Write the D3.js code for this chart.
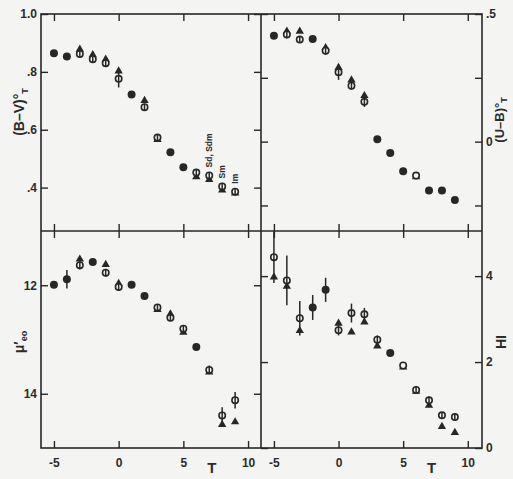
<!DOCTYPE html>
<html>
<head>
<meta charset="utf-8">
<script src="https://cdn.jsdelivr.net/npm/d3@7"></script>
<style>
  body { margin: 0; background: #f4f4f2; }
  text { font-family: "Liberation Sans", Arial, sans-serif; font-weight: bold; fill: #2b2b2b; }
</style>
</head>
<body>
<div id="chart"></div>
<script>
// morphological type
var T = [-5, -4, -3, -2, -1, 0, 1, 2, 3, 4, 5, 6, 7, 8, 9];
var xTicks = [-5, 0, 5, 10];
var xTickLabels = ["-5", "0", "5", "10"];

// (B-V) colour, top left  (tri null -> both samples coincide, filled dot)
var bvCirc = [0.864, 0.853, 0.862, 0.844, 0.830, 0.776, 0.722, 0.678, 0.573, 0.522, 0.470, 0.452, 0.442, 0.404, 0.386];
var bvTri = [null, null, 0.878, 0.859, 0.843, 0.803, null, 0.701, 0.566, null, null, 0.437, 0.428, 0.391, 0.381];
var bvErr = [0, 0, 0.01, 0.01, 0.01, 0.03, 0, 0.012, 0.01, 0, 0, 0.01, 0.01, 0.01, 0.01];
var bvTicks = [1.0, 0.8, 0.6, 0.4];
var bvTickLabels = ["1.0", ".8", ".6", ".4"];

// (U-B) colour, top right
var ubCirc = [0.415, 0.420, 0.400, 0.402, 0.356, 0.272, 0.219, 0.156, 0.009, -0.044, -0.116, -0.133, -0.191, -0.191, -0.229];
var ubTri = [null, 0.432, 0.432, null, 0.368, 0.290, 0.241, 0.180, null, null, null, -0.138, null, null, null];
var ubErr = [0.012, 0.015, 0.012, 0, 0.015, 0.03, 0.015, 0.02, 0, 0, 0, 0, 0, 0, 0.012];
var ubTicks = [0.5, 0.25, 0, -0.25];
var ubTickLabels = [".5", "", "0", ""];

// surface brightness, bottom left
var muCirc = [11.99, 11.89, 11.63, 11.57, 11.77, 12.03, 11.99, 12.20, 12.41, 12.60, 12.80, 13.14, 13.56, 14.40, 14.12];
var muTri = [null, null, 11.52, null, 11.62, 11.97, null, null, 12.45, 12.53, 12.87, null, 13.60, 14.57, 14.52];
var muErr = [0, 0.17, 0.08, 0, 0.07, 0.07, 0, 0.06, 0.05, 0.06, 0.05, 0.06, 0.08, 0.15, 0.15];
var muTicks = [12, 14];
var muTickLabels = ["12", "14"];

// HI index, bottom right
var hiCirc = [4.44, 3.90, 3.02, 3.27, 3.68, 2.74, 3.14, 3.11, 2.52, 2.21, 1.92, 1.35, 1.11, 0.76, 0.72];
var hiTri = [3.98, 3.76, 2.73, null, null, 2.90, 2.70, 2.93, 2.37, null, 1.88, 1.32, 0.99, 0.50, 0.36];
var hiErr = [0.6, 0.58, 0.4, 0.29, 0.28, 0.12, 0.22, 0.15, 0.1, 0, 0, 0.08, 0.08, 0.08, 0.08];
var hiTicks = [0, 2, 4];
var hiTickLabels = ["0", "2", "4"];

// type labels in the first panel
var typeLabels = [{t: 7, text: "Sd, Sdm"}, {t: 8, text: "Sm"}, {t: 9, text: "Im"}];

var svgWidth = 513;
var svgHeight = 479;
var ink = "#272727";
var paper = "#f4f4f2";

// frame edges (window.top is read-only, so no "top" here)
var xL = 41, xM = 261, xR = 482;
var yT = 14, yM = 231, yB = 448;
var tick = 7;

var svg = d3.select("#chart")
    .append("svg")
    .attr("width", svgWidth)
    .attr("height", svgHeight);

svg.append("rect")
    .attr("width", svgWidth)
    .attr("height", svgHeight)
    .attr("fill", paper);

var xLeft = d3.scaleLinear().domain([-6, 11]).range([xL, xM]);
var xRight = d3.scaleLinear().domain([-6, 11.1]).range([xM, xR]);

var yBV = d3.scaleLinear().domain([0.25, 1.0]).range([yM, yT]);
var yUB = d3.scaleLinear().domain([-0.35, 0.5]).range([yM, yT]);
var yMu = d3.scaleLinear().domain([11, 15]).range([yM, yB]);
var yHI = d3.scaleLinear().domain([0, 5.05]).range([yB, yM]);

function styleAxis(g) {
    g.select(".domain").remove();
    g.selectAll("line").attr("stroke", ink).attr("stroke-width", 1.4);
    g.selectAll("text").attr("fill", ink).style("font-size", "12px");
}

function noLabel() { return ""; }

// x ticks along every horizontal edge
function xAxes(x, y0, y1) {
    svg.append("g")
        .attr("transform", `translate(0, ${y0})`)
        .call(d3.axisTop(x).tickValues(xTicks).tickSize(-tick).tickFormat(noLabel))
        .call(styleAxis);
    svg.append("g")
        .attr("transform", `translate(0, ${y1})`)
        .call(d3.axisBottom(x).tickValues(xTicks).tickSize(-tick).tickFormat(noLabel))
        .call(styleAxis);
}
xAxes(xLeft, yT, yM);
xAxes(xRight, yT, yM);
xAxes(xLeft, yM, yB);
xAxes(xRight, yM, yB);

// bottom labels
[xLeft, xRight].forEach(function(x) {
    svg.append("g")
        .attr("transform", `translate(0, ${yB})`)
        .call(d3.axisBottom(x).tickValues(xTicks).tickSize(0).tickPadding(10)
            .tickFormat((d, i) => xTickLabels[i]))
        .call(styleAxis);
    svg.append("text")
        .attr("x", x(7.2))
        .attr("y", 473)
        .attr("text-anchor", "middle")
        .style("font-size", "15px")
        .text("T");
});

// y axes: labelled side outside, ticks on both sides of each panel
function yAxes(y, ticks, labels, xl, xr, labelSide) {
    var a = d3.axisLeft(y).tickValues(ticks).tickSize(-tick).tickPadding(4);
    var b = d3.axisRight(y).tickValues(ticks).tickSize(-tick).tickPadding(4);
    if (labelSide === "left") {
        a.tickFormat((d, i) => labels[i]);
        b.tickFormat(noLabel);
    } else {
        a.tickFormat(noLabel);
        b.tickFormat((d, i) => labels[i]);
    }
    svg.append("g").attr("transform", `translate(${xl}, 0)`).call(a).call(styleAxis);
    svg.append("g").attr("transform", `translate(${xr}, 0)`).call(b).call(styleAxis);
}
yAxes(yBV, bvTicks, bvTickLabels, xL, xM, "left");
yAxes(yUB, ubTicks, ubTickLabels, xM, xR, "right");
yAxes(yMu, muTicks, muTickLabels, xL, xM, "left");
yAxes(yHI, hiTicks, hiTickLabels, xM, xR, "right");

// frame
svg.append("rect")
    .attr("x", xL)
    .attr("y", yT)
    .attr("width", xR - xL)
    .attr("height", yB - yT)
    .attr("fill", "none")
    .attr("stroke", ink)
    .attr("stroke-width", 1.6);
svg.append("line")
    .attr("x1", xM).attr("x2", xM)
    .attr("y1", yT).attr("y2", yB)
    .attr("stroke", ink).attr("stroke-width", 1.6);
svg.append("line")
    .attr("x1", xL).attr("x2", xR)
    .attr("y1", yM).attr("y2", yM)
    .attr("stroke", ink).attr("stroke-width", 1.6);

// points
function drawPoints(x, y, circ, tri, err) {
    var rows = T.map((t, i) => ({t: t, c: circ[i], tr: tri[i], e: err[i]}));
    var g = svg.append("g");

    g.selectAll(".tri")
        .data(rows.filter(d => d.tr !== null))
        .enter()
        .append("path")
        .attr("d", d3.symbol().type(d3.symbolTriangle).size(30))
        .attr("transform", d => `translate(${x(d.t)}, ${y(d.tr)})`)
        .attr("fill", ink);

    g.selectAll(".dot")
        .data(rows.filter(d => d.tr === null))
        .enter()
        .append("circle")
        .attr("cx", d => x(d.t))
        .attr("cy", d => y(d.c))
        .attr("r", 4)
        .attr("fill", ink);

    g.selectAll(".open")
        .data(rows.filter(d => d.tr !== null))
        .enter()
        .append("circle")
        .attr("cx", d => x(d.t))
        .attr("cy", d => y(d.c))
        .attr("r", 3.2)
        .attr("fill", paper)
        .attr("stroke", ink)
        .attr("stroke-width", 1.6);

    g.selectAll(".err")
        .data(rows.filter(d => d.e > 0))
        .enter()
        .append("line")
        .attr("x1", d => x(d.t))
        .attr("x2", d => x(d.t))
        .attr("y1", d => y(d.c - d.e))
        .attr("y2", d => y(d.c + d.e))
        .attr("stroke", ink)
        .attr("stroke-width", 1.5);
}
drawPoints(xLeft, yBV, bvCirc, bvTri, bvErr);
drawPoints(xRight, yUB, ubCirc, ubTri, ubErr);
drawPoints(xLeft, yMu, muCirc, muTri, muErr);
drawPoints(xRight, yHI, hiCirc, hiTri, hiErr);

// type labels, written upwards
typeLabels.forEach(function(d) {
    var i = T.indexOf(d.t);
    var px = xLeft(d.t) + 3;
    var py = yBV(bvCirc[i]) - 8;
    svg.append("text")
        .attr("transform", `translate(${px}, ${py}) rotate(-90)`)
        .style("font-size", "8.5px")
        .text(d.text);
});

// axis titles
function yTitle(xp, yp, parts) {
    var t = svg.append("text")
        .attr("transform", `translate(${xp}, ${yp}) rotate(-90)`)
        .attr("text-anchor", "middle")
        .style("font-size", "14px");
    parts.forEach(function(p) {
        t.append("tspan")
            .attr("dy", p.dy || 0)
            .style("font-size", p.size || "14px")
            .text(p.text);
    });
}
yTitle(24, 112, [{text: "(B\u2013V)"}, {text: "\u00b0", dy: 0}, {text: "T", dy: 4, size: "9px"}]);
yTitle(24, 342, [{text: "\u03bc\u2032"}, {text: "eo", dy: 3, size: "9px"}]);
yTitle(504, 120, [{text: "(U\u2013B)", size: "13px"}, {text: "\u00b0", dy: 0, size: "13px"}, {text: "T", dy: 3, size: "9px"}]);
yTitle(506, 342, [{text: "HI"}]);
</script>
</body>
</html>
